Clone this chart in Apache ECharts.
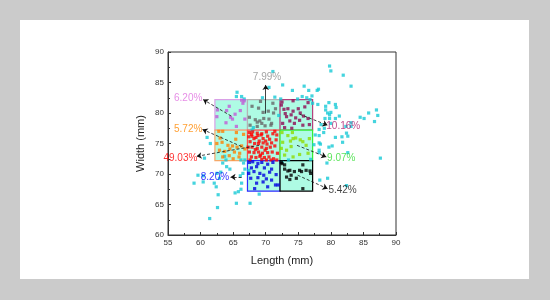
<!DOCTYPE html>
<html>
<head>
<meta charset="utf-8">
<script src="https://cdn.jsdelivr.net/npm/echarts@6/dist/echarts.min.js"></script>
<style>
  html, body { margin: 0; background: #cbcbcb; }
  #chart { width: 550px; height: 300px; }
</style>
</head>
<body>
<div id="chart"></div>
<script>
// all measured fruits (cyan)
const allPoints = [
  [79.8,87.7],[80.0,86.9],[81.9,86.2],[83.1,84.4],[71.1,86.8],[70.5,84.2],[72.6,84.6],[74.1,83.7],
  [75.9,84.4],[76.6,83.7],[77.9,83.7],[78.1,83.9],[75.6,82.7],[76.3,82.5],[76.8,82.2],[77.1,82.8],
  [74.9,82.3],[65.6,83.4],[66.3,82.7],[65.5,82.7],[66.7,82.3],[78.0,81.4],[79.2,81.1],[79.7,81.7],
  [80.7,81.4],[80.8,80.9],[79.2,80.5],[79.5,80.0],[79.8,79.7],[80.0,80.1],[79.1,79.1],[79.8,79.1],
  [80.7,79.1],[81.3,79.5],[84.5,79.3],[85.1,79.1],[85.8,80.0],[87.0,80.5],[87.2,79.6],[86.7,78.6],
  [83.1,78.4],[82.3,77.8],[83.1,77.8],[78.5,78.1],[79.0,77.5],[80.0,78.3],[78.2,77.3],[77.6,76.4],
  [78.2,76.3],[78.9,76.8],[80.7,76.0],[81.7,76.1],[82.4,76.7],[82.6,76.2],[81.8,75.2],[79.7,74.4],
  [80.2,74.6],[78.2,75.1],[78.4,74.9],[78.2,73.9],[78.2,73.5],[82.6,73.5],[87.6,72.6],[79.4,71.8],
  [79.5,69.3],[78.3,69.0],[82.4,68.1],[67.6,65.2],[69.0,66.7],[65.3,66.9],[65.5,65.2],[65.8,67.1],
  [66.2,67.5],[66.3,68.5],[66.1,69.7],[66.5,70.1],[66.8,70.8],[66.6,71.8],[66.2,72.3],[66.8,72.3],
  [64.5,70.8],[64.0,71.2],[63.4,71.8],[63.9,72.3],[63.7,72.9],[62.5,70.1],[63.1,70.3],[62.9,69.3],
  [62.1,68.5],[62.4,67.9],[62.7,66.6],[62.6,64.5],[61.4,62.7],[59.6,69.8],[60.4,69.7],[59.0,68.5],
  [60.4,68.7],[61.0,76.0],[61.5,75.0],[60.6,72.6],[69.5,82.5],[71.4,82.6],[72.3,82.3],[77.2,81.6],
  [67.9,77.2],[67.4,70.6],[72.5,71.9],[73.5,72.3],[76.9,72.4],[77.4,74.8],[72.0,79.6],[68.1,77.6]
];

const violetPts = [
  [66.1,80.4],[65.3,79.8],[66.8,79.0],[64.6,79.3],[62.5,79.4],[62.6,80.5],[64.0,80.4],
  [64.4,81.1],[64.9,79.0],[63.9,78.4],[65.5,77.8],[66.3,82.1],[66.7,82.0],[66.5,81.6]
];
const grayPts = [
  [67.9,81.1],[69.2,81.9],[68.9,80.8],[69.6,80.1],[70.4,80.3],[69.7,79.1],[69.1,78.7],[68.7,78.5],
  [69.4,78.3],[70.5,79.0],[70.9,78.3],[71.2,80.0],[71.1,81.6],[71.5,80.7],[70.8,78.0],[69.9,77.9],
  [68.7,77.8],[67.6,78.0],[67.5,79.3],[68.4,78.9]
];
const maroonPts = [
  [72.5,81.8],[74.2,82.0],[72.4,81.3],[72.8,80.6],[73.4,80.7],[74.2,80.3],[75.0,80.7],[75.3,80.0],
  [76.0,81.0],[76.5,81.7],[73.9,79.7],[73.2,79.4],[74.6,79.2],[75.2,78.8],[73.7,78.7],[74.4,78.3],
  [72.6,78.3],[72.9,77.6],[75.7,78.0],[76.5,79.1],[76.7,78.1],[73.0,79.9],[75.8,79.5],[74.0,77.5]
];
const orangePts = [
  [62.8,77.0],[63.4,77.0],[65.5,76.8],[63.0,75.9],[65.4,75.7],[62.5,75.0],[63.3,75.2],[64.2,74.7],
  [64.9,74.6],[65.6,74.4],[66.3,74.6],[62.9,73.9],[63.7,73.7],[64.5,74.1],[65.2,73.6],[66.0,73.4],
  [66.8,74.1],[63.4,72.8],[64.4,73.0],[65.0,72.5],[65.9,72.8],[66.6,76.5]
];
const redPts = [
  [67.5,76.8],[68.0,76.9],[68.7,76.7],[69.4,76.6],[70.1,76.9],[71.4,77.0],[67.4,76.1],[67.9,76.2],
  [68.5,76.0],[69.3,76.4],[69.6,75.8],[70.3,76.2],[71.7,76.4],[67.6,75.3],[68.3,75.0],[69.0,75.4],
  [69.6,75.1],[70.2,74.9],[70.9,75.1],[71.6,75.6],[67.3,74.4],[67.9,74.4],[68.7,74.2],[69.4,74.4],
  [70.1,74.2],[70.7,74.4],[71.4,74.6],[67.5,73.6],[68.2,73.5],[68.9,73.6],[69.5,73.4],[70.3,73.5],
  [71.0,73.6],[71.8,73.4],[67.8,72.8],[68.5,72.7],[69.1,72.9],[69.8,72.7],[70.5,72.8],[71.2,72.5],
  [67.6,72.3],[69.4,72.4],[70.1,72.3],[70.8,72.3],[71.7,72.3],[68.2,75.8],[68.9,75.0],[70.6,75.7],
  [69.9,73.9],[68.4,74.0],[71.1,76.6],[67.8,76.5],[70.0,75.4],[69.2,73.1],[68.8,76.3]
];
const greenPts = [
  [72.5,76.8],[74.1,76.8],[73.4,76.3],[74.2,75.8],[75.3,75.6],[72.6,75.2],[73.8,75.4],[74.6,75.9],
  [75.7,75.3],[72.4,74.2],[73.2,73.9],[73.9,74.5],[76.2,74.7],[76.7,75.8],[72.9,73.1],[74.2,72.8],
  [75.2,73.2],[76.5,73.4]
];
const bluePts = [
  [67.5,71.9],[68.0,72.0],[68.8,71.7],[69.4,71.9],[70.3,71.6],[71.1,71.9],[67.8,71.0],[68.6,71.2],
  [69.8,71.0],[70.9,70.8],[67.4,70.1],[68.2,70.4],[69.1,70.1],[69.7,69.8],[70.6,70.3],[71.6,69.9],
  [67.7,69.3],[68.8,69.4],[70.1,69.2],[68.6,68.5],[69.6,68.7],[70.9,69.0],[71.5,68.2],[71.9,68.2],
  [70.3,67.9],[68.3,67.6]
];
const blackPts = [
  [72.4,71.9],[72.9,71.5],[73.7,70.6],[74.4,70.4],[75.2,70.6],[73.9,69.8],[74.7,69.3],[73.2,69.5],
  [72.5,71.7],[72.9,70.8],[73.4,70.5],[75.5,70.4],[76.2,70.6],[76.8,70.5],[75.7,71.5],[76.9,70.1],
  [73.7,69.1],[75.7,67.6]
];

// grade boxes: [xMin, yMin, xMax, yMax]
const boxRanges = [
  [62.2,77.2,67.2,82.2],[67.2,77.2,72.2,82.2],[72.2,77.2,77.2,82.2],
  [62.2,72.2,67.2,77.2],[67.2,72.2,72.2,77.2],[72.2,72.2,77.2,77.2],
  [67.2,67.2,72.2,72.2],[72.2,67.2,77.2,72.2]
];
const boxBorder = ['#d9a0e6','#b4b4b4','#b3407c','#f5a868','#ff5050','#33ee33','#2b2bff','#000000'];
const groupColor = ['#c25ad6','#666666','#8e0a52','#ff8000','#ff0000','#8fdc00','#0000e0','#000000'];
const groups = [violetPts, grayPts, maroonPts, orangePts, redPts, greenPts, bluePts, blackPts];

const pctLabels = ['6.20%','7.99%','10.16%','5.72%','49.03%','9.07%','8.20%','5.42%'];
const labelColor = ['#e070e0','#8c8c8c','#b02070','#ff8800','#ff0000','#33dd33','#0000ff','#111111'];
const labelAt = [[58.1,82.4],[70.2,85.8],[81.9,77.8],[58.1,77.4],[56.9,72.6],[81.6,72.6],[62.2,69.5],[81.8,67.4]];
const arrowFrom = [[64.7,79.5],[70.0,79.9],[75.2,79.8],[66.3,74.5],[69.0,74.7],[74.8,74.7],[66.3,69.5],[74.9,69.8]];
const arrowTo = [[60.4,82.2],[70.0,84.6],[79.5,78.0],[60.3,77.3],[59.4,72.9],[79.3,72.8],[64.6,69.5],[79.5,67.6]];

const chart = echarts.init(document.getElementById('chart'));

const series = [];
series.push({
  type: 'scatter', data: [], z: 1, silent: true,
  markArea: {
    silent: true,
    data: boxRanges.map((b, i) => [
      {coord: [b[0], b[1]], itemStyle: {color: '#aefbe4', opacity: 1, borderColor: boxBorder[i], borderWidth: 1.2}},
      {coord: [b[2], b[3]]}
    ])
  }
});
series.push({
  type: 'scatter', data: allPoints, symbol: 'rect', symbolSize: 3.2, z: 3,
  itemStyle: {color: '#17c9d6'}
});
groups.forEach((g, i) => {
  series.push({
    type: 'scatter', data: g, symbol: 'rect', symbolSize: 3.2, z: 4,
    itemStyle: {color: groupColor[i]}
  });
});
series.push({
  type: 'scatter', data: [], z: 5, silent: true,
  markLine: {
    silent: true, symbol: ['none', 'arrow'], symbolSize: 5,
    label: {show: false},
    data: arrowFrom.map((a, i) => [
      {coord: a, lineStyle: {color: '#111', width: 0.8, type: i === 1 ? 'solid' : [3, 2]}},
      {coord: arrowTo[i]}
    ])
  }
});
series.push({
  type: 'scatter', z: 6, symbolSize: 0, silent: true,
  data: labelAt.map((p, i) => ({
    value: p,
    label: {show: true, position: 'inside', formatter: pctLabels[i], color: labelColor[i],
      fontSize: 10, fontFamily: 'Liberation Sans'}
  }))
});

chart.setOption({
  animation: false,
  backgroundColor: '#cbcbcb',
  graphic: [{type: 'rect', shape: {x: 20, y: 20, width: 509, height: 259}, style: {fill: '#ffffff'}, z: -10}],
  grid: {left: 168, right: 154, top: 52, bottom: 65, show: true, borderColor: '#333', borderWidth: 1},
  xAxis: {
    type: 'value', min: 55, max: 90, interval: 5,
    name: 'Length (mm)', nameLocation: 'middle', nameGap: 20,
    nameTextStyle: {fontSize: 11, color: '#222', fontFamily: 'Liberation Sans'},
    axisLine: {show: true, lineStyle: {color: '#333'}},
    axisTick: {inside: true, length: 3, lineStyle: {color: '#333'}},
    minorTick: {show: true, splitNumber: 2, length: 2, lineStyle: {color: '#333'}},
    axisLabel: {fontSize: 8, color: '#333', margin: 4, fontFamily: 'Liberation Sans'},
    splitLine: {show: false}
  },
  yAxis: {
    type: 'value', min: 60, max: 90, interval: 5,
    name: 'Width (mm)', nameLocation: 'middle', nameGap: 22,
    nameTextStyle: {fontSize: 11, color: '#222', fontFamily: 'Liberation Sans'},
    axisLine: {show: true, lineStyle: {color: '#333'}},
    axisTick: {inside: true, length: 3, lineStyle: {color: '#333'}},
    minorTick: {show: true, splitNumber: 2, length: 2, lineStyle: {color: '#333'}},
    axisLabel: {fontSize: 8, color: '#333', margin: 4, fontFamily: 'Liberation Sans'},
    splitLine: {show: false}
  },
  series: series
});
</script>
</body>
</html>
